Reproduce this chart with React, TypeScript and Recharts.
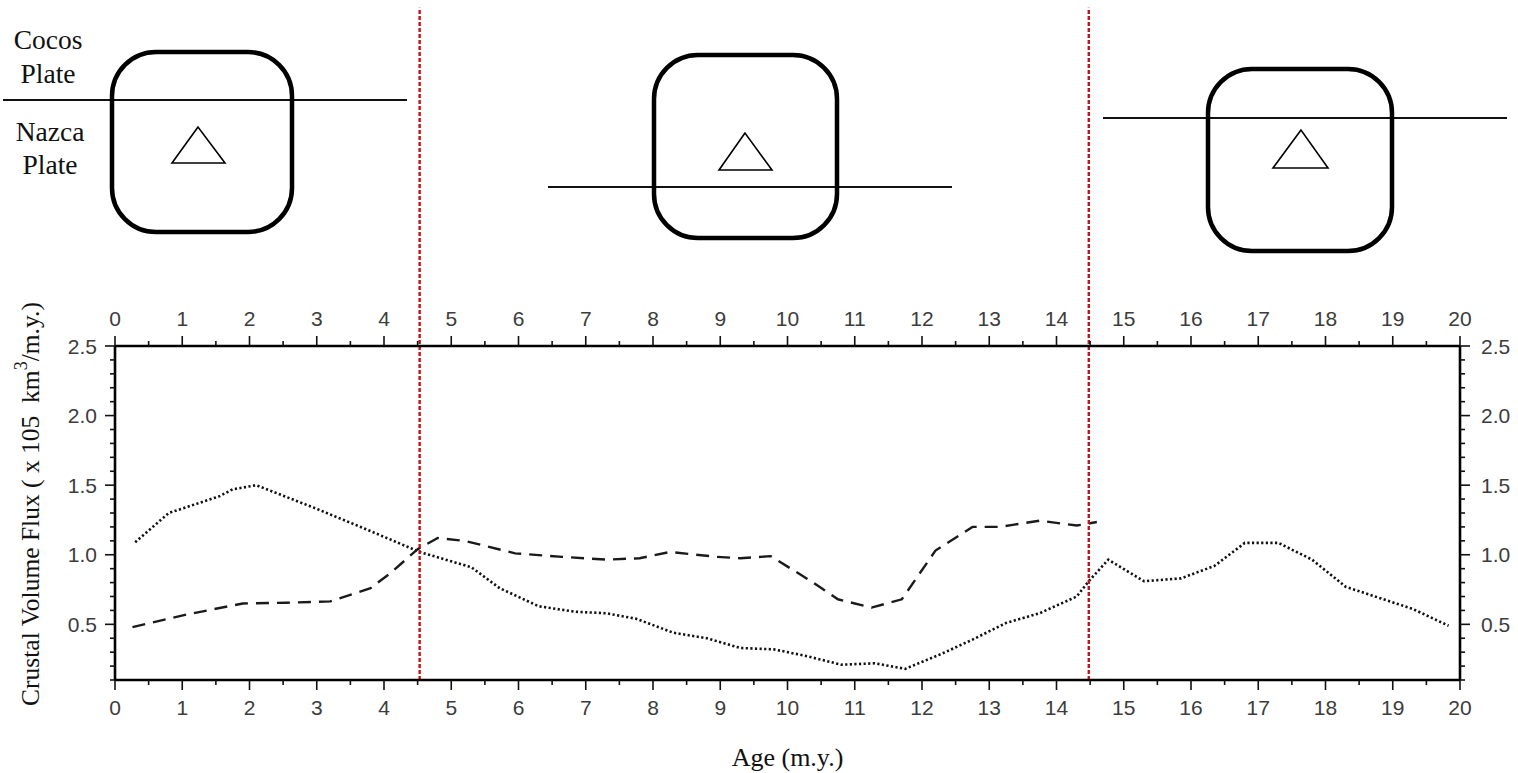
import { LineChart, Line, XAxis, YAxis, ReferenceLine, Label } from "recharts";

// dotted curve
const dottedAge = [0.3, 0.8, 1.55, 1.75, 2.1, 3.0, 3.8, 4.53, 5.3, 5.72, 6.3, 6.85, 7.3, 7.75, 8.3, 8.8, 9.3, 9.8, 10.3, 10.8, 11.3, 11.75, 12.3, 12.75, 13.25, 13.75, 14.3, 14.48, 14.77, 15.3, 15.85, 16.35, 16.8, 17.3, 17.8, 18.3, 18.8, 19.3, 19.83];
const dottedFlux = [1.09, 1.3, 1.42, 1.47, 1.5, 1.33, 1.17, 1.02, 0.91, 0.76, 0.63, 0.59, 0.58, 0.54, 0.44, 0.4, 0.33, 0.32, 0.27, 0.21, 0.22, 0.18, 0.29, 0.39, 0.51, 0.58, 0.7, 0.81, 0.965, 0.81, 0.83, 0.92, 1.085, 1.085, 0.965, 0.77, 0.69, 0.61, 0.49];

// dashed curve
const dashedAge = [0.26, 1.06, 1.9, 2.55, 3.2, 3.8, 4.1, 4.5, 4.8, 5.2, 5.95, 6.65, 7.3, 7.8, 8.25, 8.95, 9.3, 9.75, 10.35, 10.75, 11.25, 11.7, 12.2, 12.75, 13.15, 13.35, 13.75, 14.3, 14.6];
const dashedFlux = [0.48, 0.57, 0.65, 0.655, 0.665, 0.76, 0.87, 1.04, 1.12, 1.1, 1.01, 0.985, 0.965, 0.975, 1.02, 0.985, 0.975, 0.99, 0.81, 0.68, 0.62, 0.68, 1.03, 1.2, 1.2, 1.215, 1.245, 1.21, 1.235];

// red boundaries (age) and how far up they reach (flux units, above the plot)
const boundaryAges = [4.53, 14.48];
const boundaryTop = 4.93;

const ageLabels = [0, 1, 2, 3, 4, 5, 6, 7, 8, 9, 10, 11, 12, 13, 14, 15, 16, 17, 18, 19, 20];
const ageTicks = ageLabels.flatMap((v) => (v < 20 ? [v, v + 0.5] : [v]));
const fluxLabels = [0.5, 1.0, 1.5, 2.0, 2.5];
const fluxTicks = [0.1, 0.2, 0.3, 0.4, 0.5, 0.6, 0.7, 0.8, 0.9, 1.0, 1.1, 1.2, 1.3, 1.4, 1.5, 1.6, 1.7, 1.8, 1.9, 2.0, 2.1, 2.2, 2.3, 2.4, 2.5];

const dottedData = dottedAge.map((x, i) => ({ x, y: dottedFlux[i] }));
const dashedData = dashedAge.map((x, i) => ({ x, y: dashedFlux[i] }));

const SERIF = '"Liberation Serif", "Times New Roman", serif';
const SANS = '"Liberation Sans", Arial, sans-serif';
const TICK_COLOR = "#3c3c3c";
const TICK_FONT = 21;

const near = (v: number, list: number[]) => list.some((l) => Math.abs(l - v) < 1e-6);

const makeTick = (side: "top" | "bottom" | "left" | "right") => (props: any) => {
  const { x, y, payload } = props;
  const v = payload.value as number;
  const horiz = side === "top" || side === "bottom";
  const major = near(v, horiz ? ageLabels : fluxLabels);
  const len = major ? 10 : 5;
  const label = horiz ? String(v) : v.toFixed(1);
  let line;
  let text = null;
  if (side === "bottom") {
    line = <line x1={x} y1={y} x2={x} y2={y + len} />;
    if (major) text = <text x={x} y={y + 34.5} textAnchor="middle">{label}</text>;
  } else if (side === "top") {
    line = <line x1={x} y1={y} x2={x} y2={y - len} />;
    if (major) text = <text x={x} y={y - 20.5} textAnchor="middle">{label}</text>;
  } else if (side === "left") {
    line = <line x1={x} y1={y} x2={x - len} y2={y} />;
    if (major) text = <text x={x - 18} y={y + 7.5} textAnchor="end">{label}</text>;
  } else {
    line = <line x1={x} y1={y} x2={x + len} y2={y} />;
    if (major) text = <text x={x + 21} y={y + 7.5} textAnchor="start">{label}</text>;
  }
  return (
    <g>
      <g stroke="#111" strokeWidth={1.6}>{line}</g>
      <g fill={TICK_COLOR} fontFamily={SANS} fontSize={TICK_FONT}>{text}</g>
    </g>
  );
};

const YTitle = (props: any) => {
  const vb = props.viewBox || { x: 45, y: 346, width: 70, height: 334 };
  const cx = 30;
  const cy = vb.y + vb.height / 2 - 9;
  return (
    <text
      x={cx}
      y={cy}
      transform={`rotate(-90 ${cx} ${cy})`}
      textAnchor="middle"
      dominantBaseline="central"
      fontFamily={SERIF}
      fontSize={25.5}
      fill="#111"
    >
      Crustal Volume Flux ( x 105 &#160;km
      <tspan dy={-9} fontSize={18}>3</tspan>
      <tspan dy={9}>/m.y.)</tspan>
    </text>
  );
};

// schematic plate sketches above the chart
const panels = [
  { box: [112, 52, 180, 180], tri: [198, 127, 172, 163, 225, 163], plate: [3, 407, 100] },
  { box: [654, 55, 183, 183], tri: [745, 133, 719, 170, 772, 170], plate: [548, 952, 187] },
  { box: [1208, 69, 184, 182], tri: [1301, 130, 1273, 168, 1328, 168], plate: [1103, 1507, 118] },
];

const Sketch = () => (
  <svg
    width={1518}
    height={773}
    style={{ position: "absolute", left: 0, top: 0, pointerEvents: "none" }}
  >
    {panels.map((p, i) => (
      <g key={i}>
        <line x1={p.plate[0]} y1={p.plate[2]} x2={p.plate[1]} y2={p.plate[2]} stroke="#111" strokeWidth={1.8} />
        <rect x={p.box[0]} y={p.box[1]} width={p.box[2]} height={p.box[3]} rx={44} ry={44} fill="none" stroke="#000" strokeWidth={4.5} />
        <polygon
          points={`${p.tri[0]},${p.tri[1]} ${p.tri[2]},${p.tri[3]} ${p.tri[4]},${p.tri[5]}`}
          fill="none"
          stroke="#000"
          strokeWidth={1.6}
        />
      </g>
    ))}
    <g fontFamily={SERIF} fontSize={27.5} fill="#111" textAnchor="middle">
      <text x={48} y={49}>Cocos</text>
      <text x={48} y={83}>Plate</text>
      <text x={50} y={141}>Nazca</text>
      <text x={50} y={174}>Plate</text>
    </g>
  </svg>
);

const App = () => {
  return (
    <div style={{ position: "absolute", left: 0, top: 0, width: 1518, height: 773, background: "#fff" }}>
      <LineChart width={1518} height={773} margin={{ top: 300, right: 0, bottom: 0, left: 45 }}>
        <XAxis
          xAxisId="bottom"
          dataKey="x"
          type="number"
          orientation="bottom"
          domain={[0, 20]}
          ticks={ageTicks}
          interval={0}
          height={93}
          tickSize={0}
          tickMargin={0}
          tick={makeTick("bottom")}
          axisLine={{ stroke: "#000", strokeWidth: 2.6 }}
          allowDataOverflow
        >
          <Label value="Age (m.y.)" position="insideBottom" offset={7} fontFamily={SERIF} fontSize={26} fill="#111" />
        </XAxis>
        <XAxis
          xAxisId="top"
          dataKey="x"
          type="number"
          orientation="top"
          domain={[0, 20]}
          ticks={ageTicks}
          interval={0}
          height={46}
          tickSize={0}
          tickMargin={0}
          tick={makeTick("top")}
          axisLine={{ stroke: "#000", strokeWidth: 2.6 }}
          allowDataOverflow
        />
        <YAxis
          yAxisId="left"
          type="number"
          orientation="left"
          domain={[0.1, 2.5]}
          ticks={fluxTicks}
          interval={0}
          width={70}
          tickSize={0}
          tickMargin={0}
          tick={makeTick("left")}
          axisLine={{ stroke: "#000", strokeWidth: 2.6 }}
          allowDataOverflow
        >
          <Label content={<YTitle />} />
        </YAxis>
        <YAxis
          yAxisId="right"
          type="number"
          orientation="right"
          domain={[0.1, 2.5]}
          ticks={fluxTicks}
          interval={0}
          width={58}
          tickSize={0}
          tickMargin={0}
          tick={makeTick("right")}
          axisLine={{ stroke: "#000", strokeWidth: 2.6 }}
          allowDataOverflow
        />
        <Line
          xAxisId="bottom"
          yAxisId="left"
          data={dottedData}
          dataKey="y"
          type="linear"
          stroke="#111"
          strokeWidth={2.6}
          strokeDasharray="2.2 2.4"
          dot={false}
          activeDot={false}
          isAnimationActive={false}
        />
        <Line
          xAxisId="bottom"
          yAxisId="left"
          data={dashedData}
          dataKey="y"
          type="linear"
          stroke="#1a1a1a"
          strokeWidth={2.4}
          strokeDasharray="13 8"
          dot={false}
          activeDot={false}
          isAnimationActive={false}
        />
        {boundaryAges.map((a) => (
          <ReferenceLine
            key={a}
            xAxisId="bottom"
            yAxisId="left"
            ifOverflow="visible"
            segment={[
              { x: a, y: 0.1 },
              { x: a, y: boundaryTop },
            ]}
            stroke="#c0141c"
            strokeWidth={2.4}
            strokeDasharray="4 2"
          />
        ))}
      </LineChart>
      <Sketch />
    </div>
  );
};

export default App;
